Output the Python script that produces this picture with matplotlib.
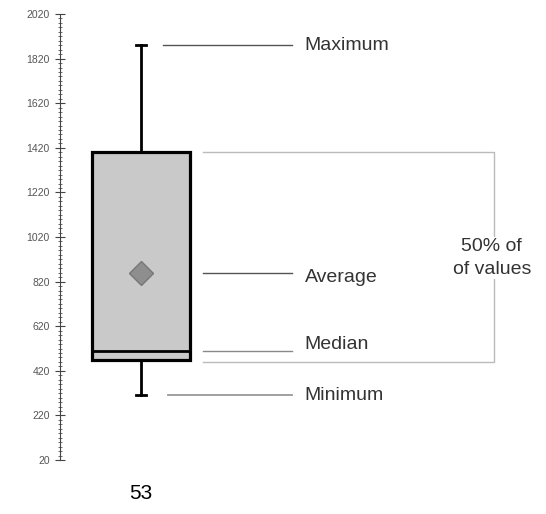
import matplotlib.pyplot as plt
from matplotlib.ticker import MultipleLocator

plt.rcParams['font.family'] = ['Liberation Sans', 'DejaVu Sans']

# box plot summary values
category = '53'
minimum = 310
q1 = 470
median = 510
q3 = 1400
maximum = 1880
average = 860

y_ticks = list(range(20, 2021, 200))

fig = plt.figure(figsize=(5.46, 5.14), dpi=100)
ax = fig.add_axes([0.11, 0.105, 0.89, 0.8677])

stats = [{'label': category, 'whislo': minimum, 'q1': q1, 'med': median,
          'q3': q3, 'whishi': maximum, 'mean': average, 'fliers': []}]
ax.bxp(stats, positions=[1], widths=1.21, showmeans=True, patch_artist=True,
       boxprops=dict(facecolor='#c9c9c9', edgecolor='black', linewidth=2.3),
       medianprops=dict(color='black', linewidth=2),
       whiskerprops=dict(color='black', linewidth=2),
       capprops=dict(color='black', linewidth=2),
       meanprops=dict(marker='D', markersize=12, markerfacecolor='#8e8e8e',
                      markeredgecolor='#777777'),
       capwidths=0.13)

ax.set_xlim(0, 6)
ax.set_ylim(20, 2020)
ax.set_yticks(y_ticks)
ax.yaxis.set_minor_locator(MultipleLocator(20))
ax.tick_params(axis='y', which='major', direction='inout', length=7, width=0.8,
               labelsize=7.5, labelcolor='#555555', color='#444444', pad=4)
ax.tick_params(axis='y', which='minor', direction='inout', length=3, width=0.6,
               color='#555555')
ax.tick_params(axis='x', length=0, labelsize=15, pad=17)
for s in ['top', 'right', 'bottom']:
    ax.spines[s].set_visible(False)
ax.spines['left'].set_color('#444444')

# annotations
x_line_end = 2.86
x_text = 3.02
ax.plot([1.27, x_line_end], [maximum, maximum], color='#555555', lw=1)
ax.text(x_text, maximum, 'Maximum', va='center', fontsize=14, color='#333333')
ax.plot([1.77, x_line_end], [average, average], color='#555555', lw=1)
ax.text(x_text, average - 20, 'Average', va='center', fontsize=14, color='#333333')
ax.plot([1.77, x_line_end], [median, median], color='#888888', lw=1)
ax.text(x_text, median + 30, 'Median', va='center', fontsize=14, color='#333333')
ax.plot([1.33, x_line_end], [minimum, minimum], color='#999999', lw=1.3)
ax.text(x_text, minimum, 'Minimum', va='center', fontsize=14, color='#333333')

# bracket around the box (50% of values)
ax.plot([1.77, 5.36, 5.36, 1.77], [q3, q3, q1 - 10, q1 - 10], color='#bbbbbb', lw=1)
ax.text(5.33, 926, '50% of\nof values', ha='center', va='center', fontsize=14,
        color='#333333', linespacing=1.45,
        bbox=dict(facecolor='white', edgecolor='none', pad=1))

fig.savefig('out.png', dpi=100)
